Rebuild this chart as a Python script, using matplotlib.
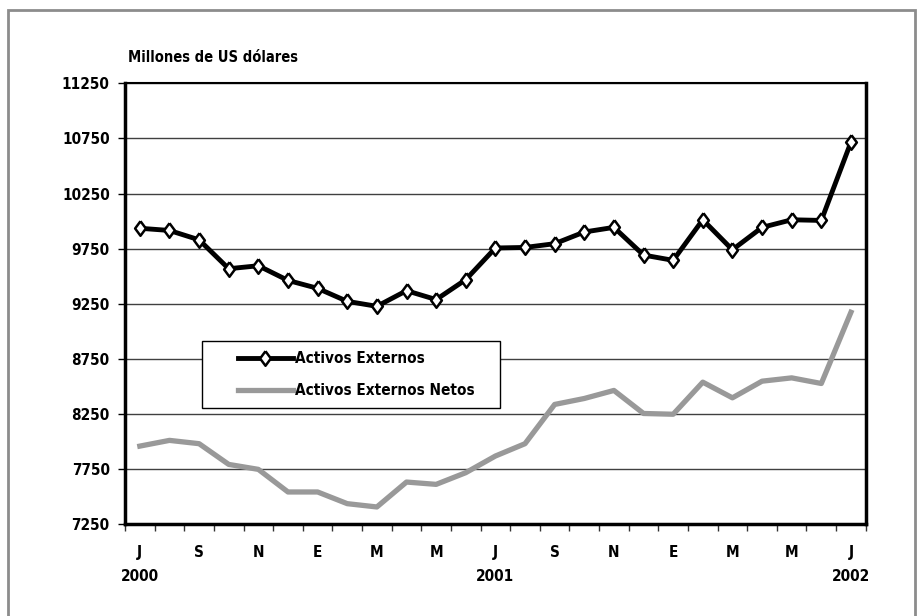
import matplotlib
matplotlib.use("Agg")
import matplotlib.pyplot as plt
from matplotlib import font_manager
from matplotlib.patches import Rectangle
from matplotlib.transforms import blended_transform_factory
import numpy as np

# monthly data, Jul 2000 - Jul 2002
activos = [9935, 9915, 9830, 9568, 9595, 9462, 9390, 9272, 9227, 9369,
           9288, 9469, 9756, 9761, 9795, 9901, 9943, 9692, 9644, 10012,
           9740, 9943, 10012, 10006, 10716]
activos_netos = [7959, 8011, 7981, 7793, 7748, 7543, 7543, 7437, 7407, 7633,
                 7612, 7718, 7869, 7981, 8337, 8391, 8464, 8255, 8248, 8539,
                 8397, 8548, 8578, 8527, 9173]
month_labels = ['J', 'S', 'N', 'E', 'M', 'M', 'J', 'S', 'N', 'E', 'M', 'M', 'J']
year_labels = {0: '2000', 12: '2001', 24: '2002'}
yticks = np.arange(7250, 11251, 500)

# look for a narrow face, the original uses Arial Narrow bold
fonts = font_manager.fontManager.ttflist
names = {f.name for f in fonts}
stretch = 'normal'
if 'Liberation Sans Narrow' in names:
    family = 'Liberation Sans Narrow'
elif any(f.name == 'DejaVu Sans' and f.stretch == 'condensed' for f in fonts):
    family = 'DejaVu Sans'
    stretch = 'condensed'
elif 'Roboto Condensed' in names:
    family = 'Roboto Condensed'
else:
    family = 'Liberation Sans'
plt.rcParams['font.family'] = [family, 'DejaVu Sans']
plt.rcParams['font.stretch'] = stretch
plt.rcParams['font.weight'] = 'bold'

fs = 11

fig = plt.figure(figsize=(9.22, 6.16), dpi=100)
ax = fig.add_axes([0.1356, 0.1489, 0.8034, 0.7159])

x = np.arange(len(activos))

# grey outer frame
fig.patches.append(Rectangle((8 / 922, -0.05), 907 / 922, 1.05 - 10 / 616,
                             transform=fig.transFigure, fill=False,
                             edgecolor='#8c8c8c', linewidth=2))

diamond = [(0, 1.15), (0.85, 0), (0, -1.15), (-0.85, 0), (0, 1.15)]
ax.plot(x, activos, color='black', linewidth=3.5, marker=diamond,
        markersize=10.5, markerfacecolor='white', markeredgecolor='black',
        markeredgewidth=1.8, label='Activos Externos', zorder=4)
ax.plot(x, activos_netos, color='#999999', linewidth=3.8,
        label='Activos Externos Netos', zorder=3)

ax.set_xlim(-0.5, len(activos) - 0.5)
ax.set_ylim(7250, 11250)
ax.set_yticks(yticks)
ax.set_yticklabels([str(v) for v in yticks], fontsize=fs, fontweight='bold')
ax.yaxis.grid(True, color='#404040', linewidth=1)
ax.set_axisbelow(True)

# category boundaries get the tick marks, labels sit in the middle
ax.set_xticks(np.arange(-0.5, len(activos), 1.0))
ax.set_xticklabels([])
ax.set_xticks(np.arange(0, len(activos), 2), minor=True)
ax.set_xticklabels(month_labels, minor=True, fontsize=fs, fontweight='bold')
ax.tick_params(axis='x', which='major', length=5, width=1, color='#333333')
ax.tick_params(axis='x', which='minor', length=0, pad=15)
ax.tick_params(axis='y', length=5, width=1, pad=6)

trans = blended_transform_factory(ax.transData, ax.transAxes)
for i, yr in year_labels.items():
    ax.text(i, -0.119, yr, transform=trans, ha='center', va='center',
            fontsize=fs, fontweight='bold')

for s in ['left', 'right', 'bottom']:
    ax.spines[s].set_linewidth(2.5)
ax.spines['top'].set_linewidth(1.5)

fig.text(128 / 922, 1 - 58 / 616, 'Millones de US dólares', ha='left',
         va='center', fontsize=10.5, fontweight='bold')

# legend box
ax.add_patch(Rectangle((0.104, 0.264), 0.402, 0.151, transform=ax.transAxes,
                       facecolor='white', edgecolor='black', linewidth=1,
                       zorder=5))
leg = ax.legend(loc='center left', bbox_to_anchor=(0.1525, 0.339),
                frameon=False, fontsize=fs, handlelength=3.6,
                handletextpad=0.1, labelspacing=1.1, borderpad=0,
                borderaxespad=0)
leg.set_zorder(6)
for t in leg.get_texts():
    t.set_fontweight('bold')

fig.savefig('out.png', dpi=100)
